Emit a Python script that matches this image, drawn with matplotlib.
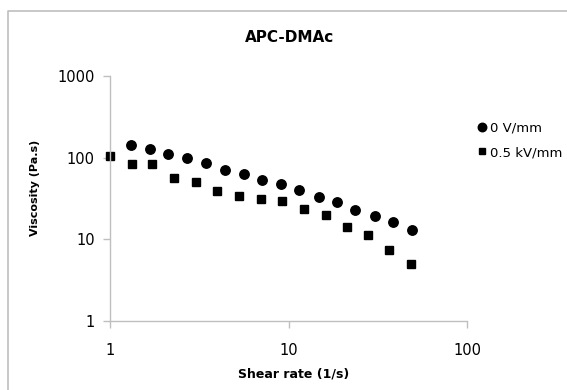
import matplotlib
matplotlib.use("Agg")
import matplotlib.pyplot as plt
from matplotlib.lines import Line2D

plt.rcParams['font.family'] = ['DejaVu Sans']

# 0 V/mm
rate_0 = [1.31, 1.68, 2.12, 2.71, 3.45, 4.41, 5.61, 7.08, 9.08, 11.5,
          14.8, 18.7, 23.7, 30.4, 38.5, 49.2]
visc_0 = [144, 126, 112, 98, 86, 71, 63, 53, 47, 40,
          33, 29, 23, 19.1, 16.3, 13.0]

# 0.5 kV/mm
rate_05 = [1.0, 1.32, 1.72, 2.28, 3.02, 3.99, 5.30, 7.01, 9.2, 12.2,
           16.2, 21.3, 27.8, 36.7, 48.4]
visc_05 = [105, 83.5, 83.5, 56.8, 50.3, 38.7, 34.2, 30.9, 29.2, 23.2,
           19.6, 14.1, 11.4, 7.3, 5.0]

xticks = [1, 10, 100]
yticks = [1, 10, 100, 1000]

fig = plt.figure(figsize=(5.67, 3.9), dpi=100)
# chart area border (only top and left edges visible)
x0, y1 = 8 / 567, 1 - 11 / 390
fig.lines.append(Line2D([x0, x0, 1.0], [0.0, y1, y1], transform=fig.transFigure,
                        color='#bfbfbf', lw=1.2))
ax = fig.add_axes([110 / 567, 69 / 390, 357 / 567, 245 / 390])

ax.plot(rate_0, visc_0, 'o', color='black', ms=6.8, label='0 V/mm', clip_on=False)
ax.plot(rate_05, visc_05, 's', color='black', ms=5.2, label='0.5 kV/mm', clip_on=False)

ax.set_xscale('log')
ax.set_yscale('log')
ax.set_xlim(1, 100)
ax.set_ylim(1, 1000)
ax.set_xticks(xticks)
ax.set_xticklabels([str(t) for t in xticks])
ax.set_yticks(yticks)
ax.set_yticklabels([str(t) for t in yticks])
ax.minorticks_off()

for side in ['top', 'right']:
    ax.spines[side].set_visible(False)
for side in ['left', 'bottom']:
    ax.spines[side].set_color('#bfbfbf')
    ax.spines[side].set_linewidth(1.0)
ax.tick_params(axis='both', colors='#bfbfbf', length=5, width=1.0,
               labelcolor='black', labelsize=10.5)
ax.tick_params(axis='x', pad=11)
ax.tick_params(axis='y', pad=6)

ax.set_xlabel('Shear rate (1/s)', fontsize=9, fontweight='bold', va='center')
ax.xaxis.set_label_coords(0.513, -0.216)
ax.set_ylabel('Viscosity (Pa.s)', fontsize=8, fontweight='bold', va='center')
ax.yaxis.set_label_coords(-0.21, 0.543)
fig.text(290 / 567, 1 - 38 / 390, 'APC-DMAc', ha='center', va='center',
         fontsize=11, fontweight='bold')

ax.legend(loc='upper left', bbox_to_anchor=(1.0, 0.845), frameon=False,
          handletextpad=0.15, handlelength=1.0, labelspacing=0.85, fontsize=9.5,
          borderaxespad=0.2, markerscale=0.9)

fig.savefig('out.png', dpi=100)
